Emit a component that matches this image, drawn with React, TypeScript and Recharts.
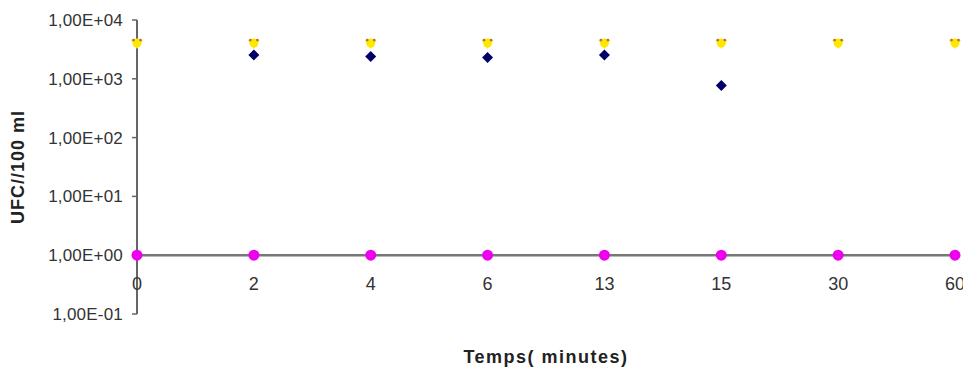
import { ComposedChart, Line, XAxis, YAxis, ReferenceLine } from "recharts";

const temps = ["0", "2", "4", "6", "13", "15", "30", "60"];
const serieBleue = [null, 2550, 2400, 2300, 2550, 770, null, null];
const serieRose = [1, 1, 1, 1, 1, 1, 1, 1];
const serieJaune = [3900, 3900, 3900, 3900, 3900, 3900, 3900, 3900];
const yTicks = [0.1, 1, 10, 100, 1000, 10000];

const data = temps.map((t, i) => ({
  t,
  bleue: serieBleue[i],
  rose: serieRose[i],
  jaune: serieJaune[i],
}));

const font = "'Liberation Sans', Arial, sans-serif";

const sci = (v: number) => {
  const e = Math.round(Math.log10(v));
  const s = e < 0 ? "-" : "+";
  return `1,00E${s}${String(Math.abs(e)).padStart(2, "0")}`;
};

const Diamond = ({ cx, cy }: any) =>
  cx == null || cy == null ? null : (
    <path d={`M${cx},${cy - 5.5} L${cx + 5.5},${cy} L${cx},${cy + 5.5} L${cx - 5.5},${cy} Z`} fill="#000066" />
  );

const Square = ({ cx, cy }: any) =>
  cx == null || cy == null ? null : <circle cx={cx} cy={cy} r={5.5} fill="#ee00ee" />;

const Triangle = ({ cx, cy }: any) =>
  cx == null || cy == null ? null : (
    <g>
      <path d={`M${cx - 6},${cy - 4} L${cx + 6},${cy - 4} L${cx},${cy + 5} Z`} fill="#ffe800" />
      <circle cx={cx} cy={cy - 1} r={4.5} fill="#ffe800" />
      <circle cx={cx - 3.5} cy={cy - 4} r={1.4} fill="#b07050" />
      <circle cx={cx + 3.5} cy={cy - 4} r={1.4} fill="#b07050" />
    </g>
  );

const XTick = ({ x, y, payload }: any) => (
  <text x={x} y={y - 45} dy="0.71em" textAnchor="middle" fontSize={18} fill="#333" fontFamily={font}>
    {payload.value}
  </text>
);

export default function App() {
  return (
    <div style={{ position: "absolute", left: 0, top: 0, background: "#fff" }}>
      <ComposedChart width={963} height={367} data={data} margin={{ top: 20, right: 8, left: 0, bottom: 0 }}>
        <XAxis
          dataKey="t"
          height={53}
          axisLine={false}
          tickLine={false}
          tick={<XTick />}
          interval={0}
          label={{ value: "Temps( minutes)", position: "insideBottom", offset: 4, fontSize: 18, fontWeight: "bold", fill: "#222", fontFamily: font, letterSpacing: 1.5 }}
        />
        <YAxis
          scale="log"
          domain={[0.1, 10000]}
          ticks={yTicks}
          allowDataOverflow
          width={137}
          tickFormatter={sci}
          tick={{ fontSize: 17, fill: "#333", fontFamily: font, letterSpacing: 0.2 }}
          tickSize={5}
          tickMargin={9}
          axisLine={{ stroke: "#666", strokeWidth: 2 }}
          tickLine={{ stroke: "#666", strokeWidth: 1.5 }}
          label={{ value: "UFC//100 ml", angle: -90, position: "insideLeft", offset: 18, fontSize: 18, fontWeight: "bold", fill: "#222", fontFamily: font, letterSpacing: 1, style: { textAnchor: "middle" } }}
        />
        <ReferenceLine y={1} stroke="#777" strokeWidth={2.5} />
        <Line dataKey="bleue" stroke="none" dot={<Diamond />} activeDot={false} isAnimationActive={false} />
        <Line dataKey="rose" stroke="none" dot={<Square />} activeDot={false} isAnimationActive={false} />
        <Line dataKey="jaune" stroke="none" dot={<Triangle />} activeDot={false} isAnimationActive={false} />
      </ComposedChart>
    </div>
  );
}
